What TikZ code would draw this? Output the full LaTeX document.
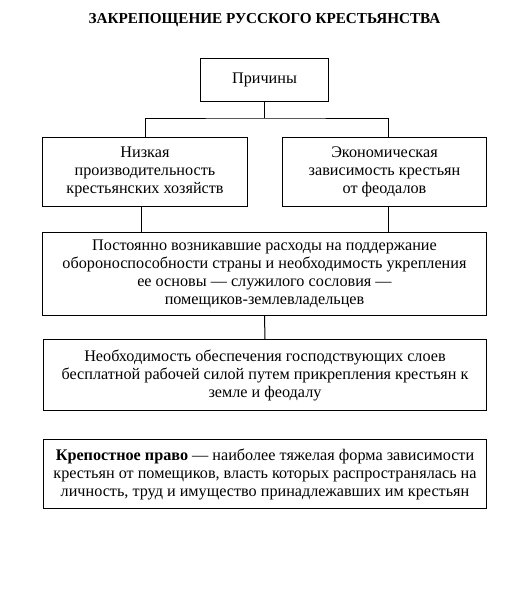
\documentclass[tikz,border=0pt]{standalone}
\usepackage{fontspec}
\setmainfont{Liberation Serif}
\begin{document}
\begin{tikzpicture}[x=1pt,y=1pt,
  box/.style={draw,line width=1pt,inner sep=0pt,align=center,anchor=north west,
    font=\fontsize{16.2}{18}\selectfont},
  conn/.style={line width=1pt}]
\useasboundingbox (0,0) rectangle (516,-598);
\node[font=\bfseries\fontsize{15.2}{17}\selectfont] (title) at (264.5,-20) {ЗАКРЕПОЩЕНИЕ РУССКОГО КРЕСТЬЯНСТВА};
\node[box,minimum width=128pt,minimum height=43pt] (p) at (200,-58) {Причины};
\node[box,minimum width=205pt,minimum height=69pt] (l) at (42,-137) {Низкая\\производительность\\крестьянских хозяйств};
\node[box,minimum width=204pt,minimum height=69pt] (r) at (282,-137) {Экономическая\\зависимость крестьян\\от феодалов};
\node[box,minimum width=444pt,minimum height=83pt] (m) at (42,-232) {Постоянно возникавшие расходы на поддержание\\обороноспособности страны и необходимость укрепления\\ее основы — служилого сословия —\\помещиков-землевладельцев};
\node[box,minimum width=443pt,minimum height=71pt] (n) at (43,-339) {Необходимость обеспечения господствующих слоев\\бесплатной рабочей силой путем прикрепления крестьян к\\земле и феодалу};
\node[box,minimum width=443pt,minimum height=69pt] (k) at (43,-439) {\textbf{Крепостное право} — наиболее тяжелая форма зависимости\\крестьян от помещиков, власть которых распространялась на\\личность, труд и имущество принадлежавших им крестьян};
\coordinate (j) at (p.south |- 0,-118);
\draw[conn] (p.south) -- (j);
\draw[conn] (l.north) |- (j) -| ([xshift=4pt]r.north);
\draw[conn] ([xshift=-4pt]l.south) -- ([xshift=-4pt]l.south |- m.north);
\draw[conn] ([xshift=4pt]r.south) -- ([xshift=4pt]r.south |- m.north);
\draw[conn] (m.south) -- (n.north);
\end{tikzpicture}
\end{document}
